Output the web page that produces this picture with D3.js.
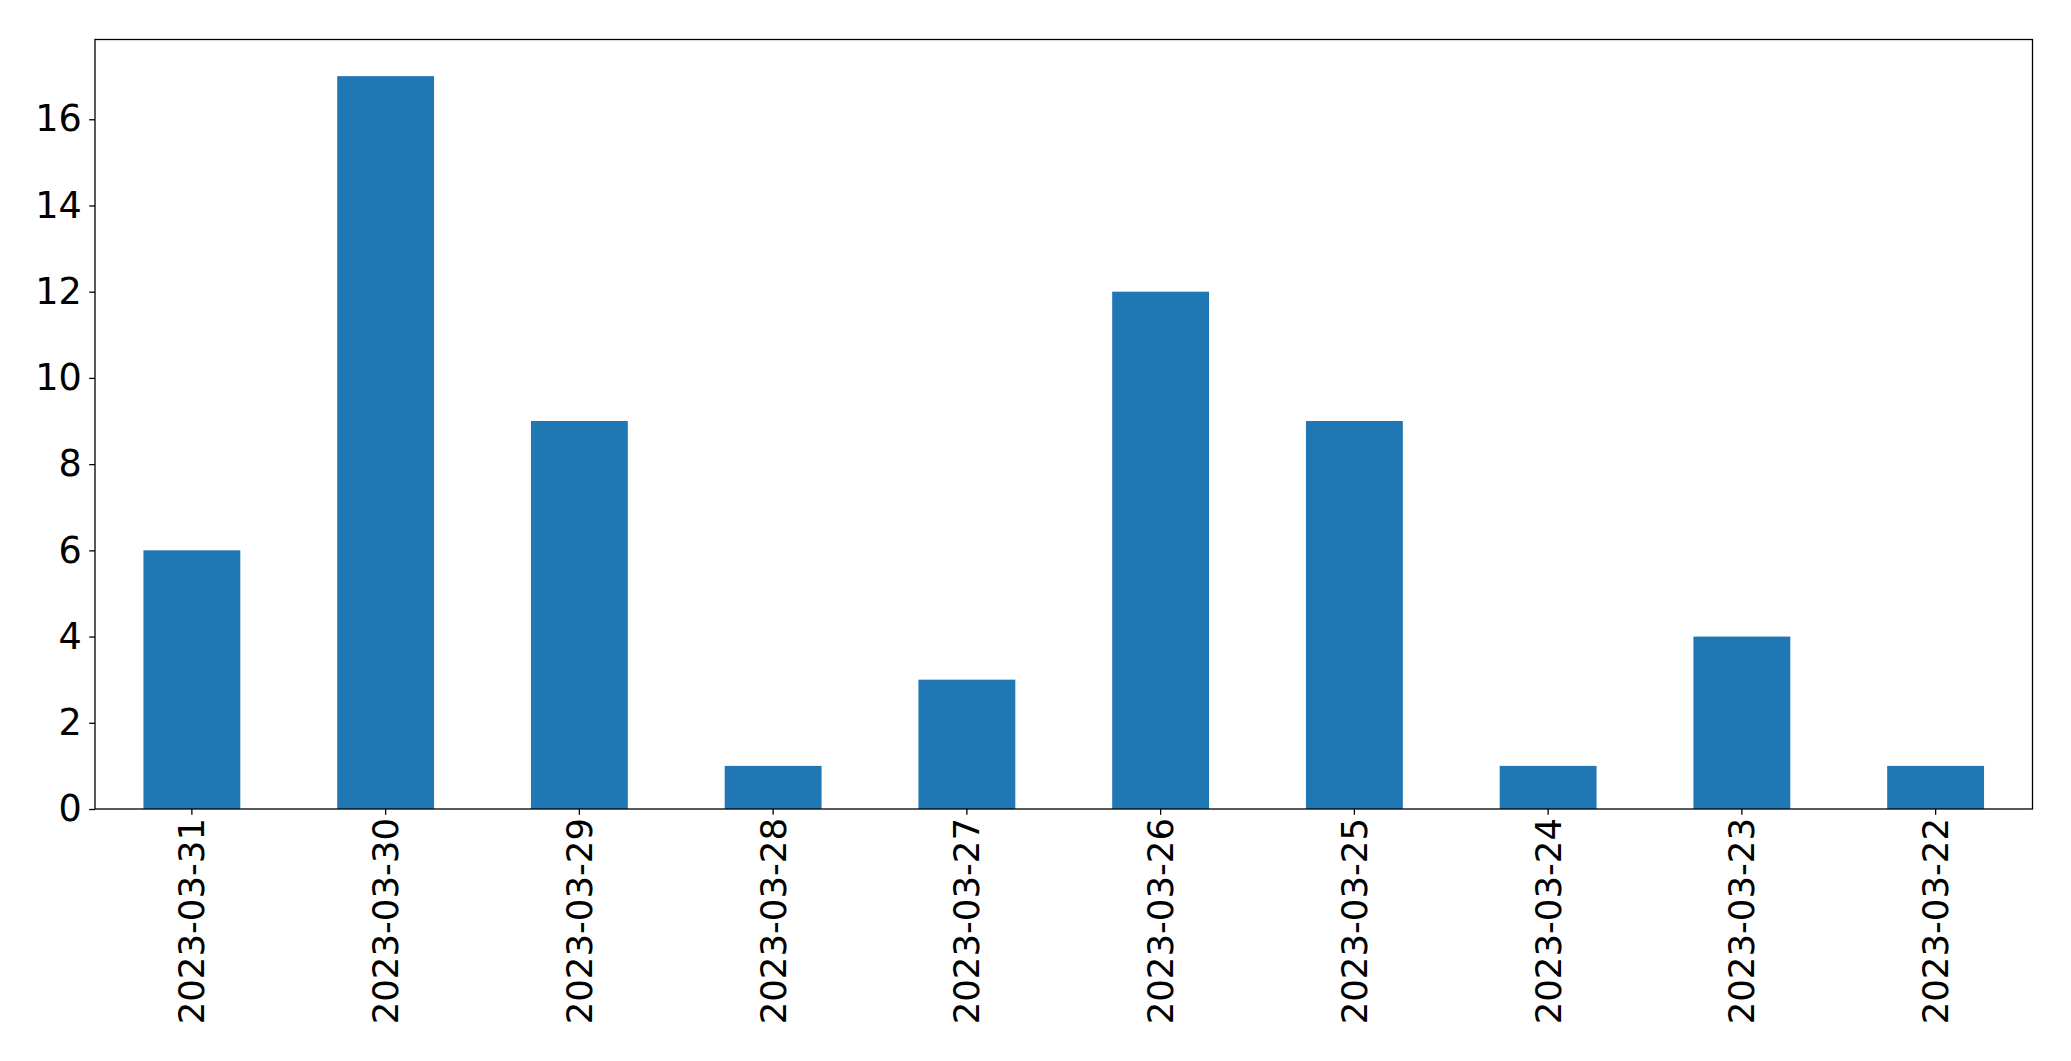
<!DOCTYPE html>
<html><head><meta charset="utf-8">
<script src="https://cdn.jsdelivr.net/npm/d3@7"></script>
<style>body{margin:0;background:#fff}svg{display:block}text{font-family:"DejaVu Sans",sans-serif}</style>
</head><body>
<script>
const categories = ["2023-03-31","2023-03-30","2023-03-29","2023-03-28","2023-03-27","2023-03-26","2023-03-25","2023-03-24","2023-03-23","2023-03-22"];
const values = [6,17,9,1,3,12,9,1,4,1];
const yTicks = [0,2,4,6,8,10,12,14,16];

const W = 2071, H = 1061;
const m = {left:95, top:39.5, right:2032.5, bottom:809};
const svg = d3.select("body").append("svg").attr("width",W).attr("height",H);

const x = d3.scaleBand().domain(categories).range([m.left,m.right]).paddingInner(0.5).paddingOuter(0.25);
const y = d3.scaleLinear().domain([0, 17*1.05]).range([m.bottom,m.top]);

svg.append("g").selectAll("rect").data(values).join("rect")
  .attr("x",(d,i)=>x(categories[i])).attr("width",x.bandwidth())
  .attr("y",d=>y(d)).attr("height",d=>y(0)-y(d)).attr("fill","#1f77b4");

const yAxis = svg.append("g").attr("transform",`translate(${m.left},0)`)
  .call(d3.axisLeft(y).tickValues(yTicks).tickSize(5.8).tickPadding(7.5).tickFormat(d3.format("d")));
yAxis.select(".domain").remove();
yAxis.selectAll("text").attr("font-size",36.6).attr("fill","#000").style("font-family","DejaVu Sans");
yAxis.selectAll("line").attr("stroke","#000").attr("stroke-width",1.3);

const xAxis = svg.append("g").attr("transform",`translate(0,${m.bottom})`)
  .call(d3.axisBottom(x).tickSize(5.8).tickPadding(0));
xAxis.select(".domain").remove();
xAxis.selectAll("line").attr("stroke","#000").attr("stroke-width",1.3);
xAxis.selectAll("text").attr("font-size",35.5).attr("fill","#000").style("font-family","DejaVu Sans")
  .attr("text-anchor","end").attr("dy",null).attr("y",0)
  .attr("transform","translate(0,9) rotate(-90)").attr("dominant-baseline","central");

svg.append("rect").attr("x",m.left).attr("y",m.top).attr("width",m.right-m.left).attr("height",m.bottom-m.top)
  .attr("fill","none").attr("stroke","#000").attr("stroke-width",1.3);
</script>
</body></html>
